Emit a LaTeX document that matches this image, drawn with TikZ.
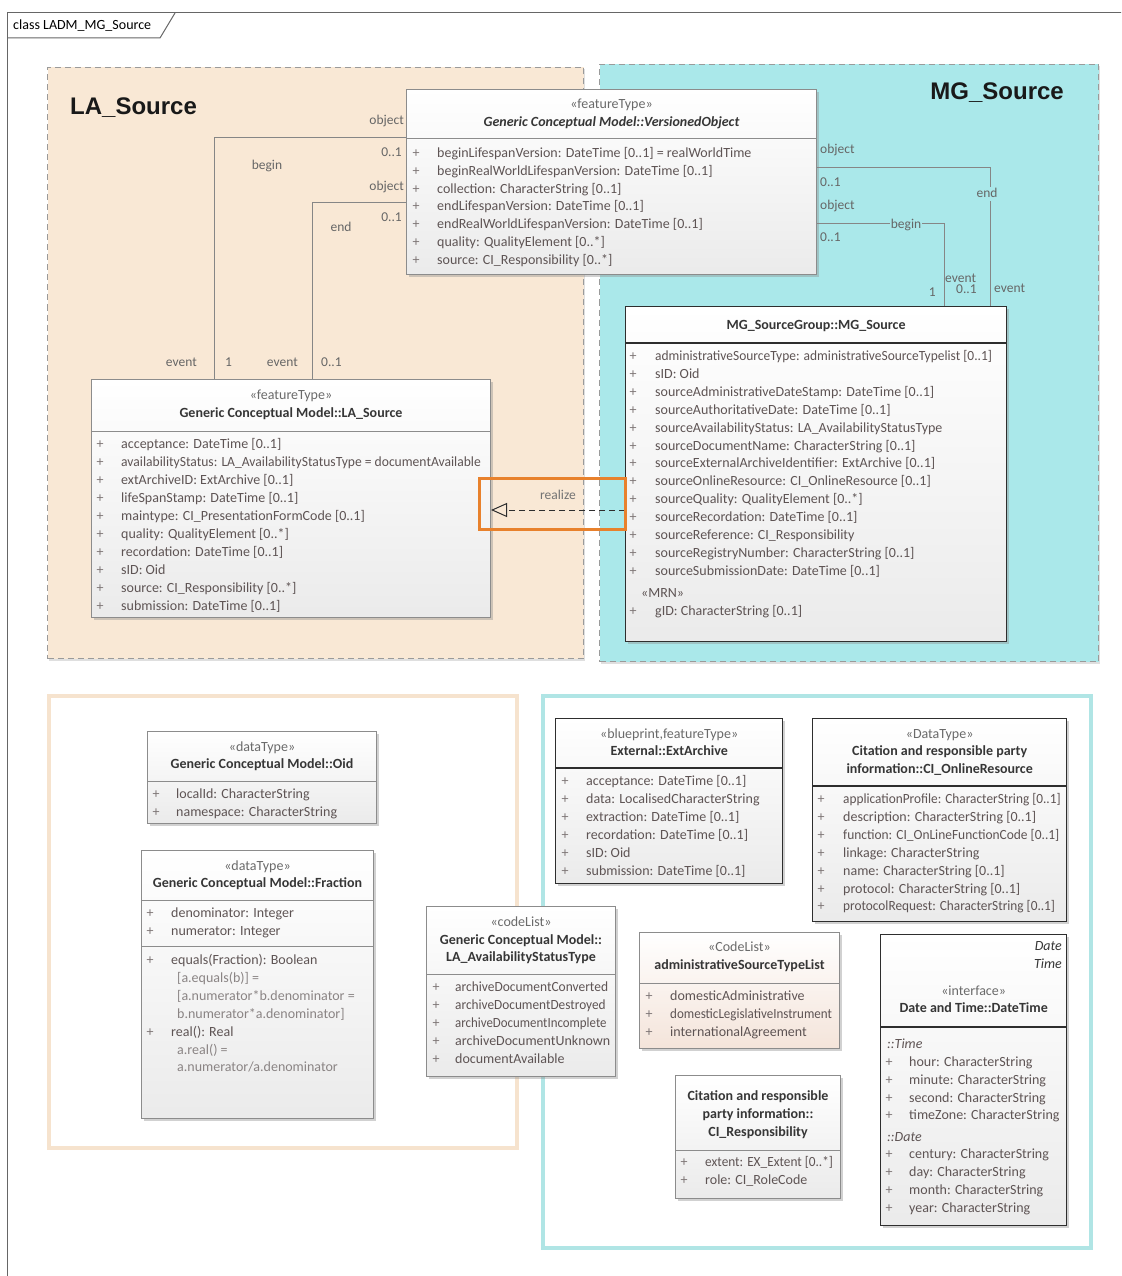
\documentclass[tikz,border=0pt]{standalone}
\usepackage{graphicx}
\usepackage{fontspec}
\setmainfont{Carlito}
\newfontfamily\headfont{Liberation Sans}
\usetikzlibrary{arrows.meta,shadows,calc}

\definecolor{lapeach}{HTML}{F9E8D5}
\definecolor{mgcyan}{HTML}{AAE8EA}
\definecolor{pkgline}{HTML}{9A9A9A}
\definecolor{attrtext}{HTML}{5E5454}
\definecolor{constrtext}{HTML}{8A8484}
\definecolor{stereotext}{HTML}{6A6A6A}
\definecolor{nametext}{HTML}{363636}
\definecolor{boxline}{HTML}{8C8C8C}
\definecolor{darkline}{HTML}{2E2E2E}
\definecolor{connline}{HTML}{868686}
\definecolor{hilite}{HTML}{E8812C}
\definecolor{peachframe}{HTML}{F6E3CE}
\definecolor{cyanframe}{HTML}{B0E5E5}
\definecolor{codefill}{HTML}{F4E4DA}

\newcommand\umlfont{\fontsize{14}{16}\selectfont}
% condense a row of text horizontally so it fits its box
\newcommand\squeeze[2]{\scalebox{#1}[1]{#2}}

\tikzset{
  frameline/.style={draw=black!60, line width=1pt},
  tabtext/.style={font=\fontsize{14}{16}\selectfont, inner sep=0pt, anchor=west},
  pkg/.style={draw=pkgline, dash pattern=on 6pt off 4pt, line width=1pt,
    anchor=north west, inner sep=0pt,
    drop shadow={shadow xshift=1.5pt, shadow yshift=-2pt, fill=black!35, opacity=.35}},
  pkgtitle/.style={font=\headfont\bfseries\fontsize{24}{28}\selectfont, text=black!90, inner sep=0pt},
  lowframe/.style={line width=3.5pt, anchor=north west, inner sep=0pt},
  classbox/.style={draw=boxline, line width=1pt, top color=white, bottom color=black!8,
    anchor=north west, inner sep=0pt,
    drop shadow={shadow xshift=2.5pt, shadow yshift=-2.5pt, fill=black!45, opacity=.4}},
  darkbox/.style={classbox, draw=darkline, line width=1.3pt},
  codebox/.style={classbox, top color=white, bottom color=codefill},
  stereo/.style={font=\umlfont, text=stereotext, inner sep=0pt, text height=10pt, text depth=3pt},
  cname/.style={font=\umlfont\bfseries, text=nametext, inner sep=0pt, text height=10pt, text depth=3pt},
  attr/.style={font=\umlfont, text=attrtext, inner sep=0pt, anchor=west, text height=10pt, text depth=3pt},
  constr/.style={attr, text=constrtext},
  plus/.style={font=\umlfont, text=attrtext!80, inner sep=0pt, text height=10pt, text depth=3pt},
  role/.style={font=\fontsize{13.5}{15}\selectfont, text=black!60, inner sep=1pt, text height=9pt, text depth=3pt},
  conn/.style={draw=connline, line width=1pt},
  sepline/.style={draw=boxline, line width=1pt},
  darksep/.style={draw=darkline, line width=1.3pt},
  realizeline/.style={draw=darkline, line width=1pt, dash pattern=on 6pt off 4pt,
    -{Triangle[open, length=16pt, width=14pt, line width=1pt]}},
}

% attribute rows: #1 prefix, #2 x of '+', #3 x of text, #4 first y, #5 row step, #6 rows
\newcommand\attrrows[6]{%
  \foreach \t [count=\i] in {#6}{%
    \pgfmathsetmacro\rowy{#4+(\i-1)*#5}%
    \node[plus] (#1p\i) at (#2,\rowy) {+};
    \node[attr] (#1a\i) at (#3,\rowy) {\t};
  }%
}
% horizontal compartment line across a class box: #1 style, #2 box, #3 y
\newcommand\compline[3]{\draw[#1] (#2.west |- 0,#3) -- (#2.east |- 0,#3);}

\begin{document}
\begin{tikzpicture}[x=1pt,y=-1pt]
\useasboundingbox (0,0) rectangle (1121,1276);
\clip (0,0) rectangle (1121,1276);
\fill[white] (0,0) rectangle (1121,1276);

% diagram frame with its name tab
\draw[frameline] (7,13) rectangle (1140,1290);
\draw[frameline] (7,38) -- (160,38) -- (175,13);
\node[tabtext] (tab) at (13,25.5) {class LADM\_MG\_Source};

% packages
\node[pkg, fill=lapeach, minimum width=536pt, minimum height=591pt] (laPkg) at (47,67) {};
\node[pkg, fill=mgcyan, minimum width=499pt, minimum height=597pt] (mgPkg) at (599,64) {};
\node[pkgtitle, anchor=west] (laTitle) at (70,108) {LA\_Source};
\node[pkgtitle, anchor=east] (mgTitle) at (1064,93) {MG\_Source};

\node[lowframe, draw=peachframe, minimum width=468pt, minimum height=452pt] (laLow) at (47,694) {};
\node[lowframe, draw=cyanframe, minimum width=548pt, minimum height=552pt] (mgLow) at (541,694) {};

% ---------- class boxes ----------
\node[classbox, minimum width=410pt, minimum height=185pt] (vo) at (406,89) {};
\node[classbox, minimum width=399pt, minimum height=238pt] (las) at (91,379) {};
\node[darkbox, minimum width=381pt, minimum height=335pt] (mg) at (625,306) {};

% connectors between VersionedObject, LA_Source and MG_Source
\coordinate (lbBend) at (214,138);
\coordinate (leBend) at (312,202);
\coordinate (reBend) at (990,168);
\coordinate (rbBend) at (944,223);
\draw[conn] (vo.west |- lbBend) -| (las.north -| lbBend);
\draw[conn] (vo.west |- leBend) -| (las.north -| leBend);
\draw[conn] (vo.east |- reBend) -| (mg.north -| reBend);
\draw[conn] (vo.east |- rbBend) -| (mg.north -| rbBend);

\node[role, anchor=east] (lbObj) at (405,122) {object};
\node[role, anchor=east] (lbMul) at (403,154) {0..1};
\node[role] (lbName) at (267,167) {begin};
\node[role, anchor=east] (lbEv) at (198,363) {event};
\node[role, anchor=west] (lbEvMul) at (224,363) {1};
\node[role, anchor=east] (leObj) at (405,187) {object};
\node[role, anchor=east] (leMul) at (403,218) {0..1};
\node[role] (leName) at (341,228) {end};
\node[role, anchor=east] (leEv) at (299,363) {event};
\node[role, anchor=west] (leEvMul) at (320,363) {0..1};

\node[role, anchor=west] (reObj) at (819,151) {object};
\node[role, anchor=west] (reMul) at (819,183) {0..1};
\node[role, fill=mgcyan] (reName) at (987,194) {end};
\node[role, anchor=west] (reEv) at (993,289) {event};
\node[role, anchor=west] (rbObj) at (819,206) {object};
\node[role, anchor=west] (rbMul) at (819,238) {0..1};
\node[role, fill=mgcyan] (rbName) at (906,225) {begin};
\node[role, anchor=west] (rbEv) at (944,279) {event};
\node[role, anchor=west] (rbEvMul) at (955,290) {0..1};
\node[role, anchor=east] (rbMulOne) at (937,293) {1};

% VersionedObject
\node[stereo] (voSt) at (vo.center |- 0,105) {«featureType»};
\node[cname, font=\umlfont\bfseries\itshape] (voName) at (vo.center |- 0,123) {Generic Conceptual Model::VersionedObject};
\compline{sepline}{vo}{139}
\attrrows{vo}{416}{437}{154}{17.8}{
  {beginLifespanVersion: DateTime [0..1] = realWorldTime},
  {beginRealWorldLifespanVersion: DateTime [0..1]},
  {collection: CharacterString [0..1]},
  {endLifespanVersion: DateTime [0..1]},
  {endRealWorldLifespanVersion: DateTime [0..1]},
  {quality: QualityElement [0..*]},
  {source: CI\_Responsibility [0..*]}}

% LA_Source
\node[stereo] (lasSt) at (las.center |- 0,396) {«featureType»};
\node[cname] (lasName) at (las.center |- 0,414) {Generic Conceptual Model::LA\_Source};
\compline{sepline}{las}{431}
\attrrows{las}{100}{121}{445}{18}{
  {acceptance: DateTime [0..1]},
  {\squeeze{0.97}{availabilityStatus: LA\_AvailabilityStatusType = documentAvailable}},
  {extArchiveID: ExtArchive [0..1]},
  {lifeSpanStamp: DateTime [0..1]},
  {maintype: CI\_PresentationFormCode [0..1]},
  {quality: QualityElement [0..*]},
  {recordation: DateTime [0..1]},
  {sID: Oid},
  {source: CI\_Responsibility [0..*]},
  {submission: DateTime [0..1]}}

% MG_Source
\node[cname] (mgName) at (mg.center |- 0,326) {MG\_SourceGroup::MG\_Source};
\compline{darksep}{mg}{343}
\attrrows{mg}{633}{655}{357}{17.9}{
  {\squeeze{0.96}{administrativeSourceType: administrativeSourceTypelist [0..1]}},
  {sID: Oid},
  {sourceAdministrativeDateStamp: DateTime [0..1]},
  {sourceAuthoritativeDate: DateTime [0..1]},
  {sourceAvailabilityStatus: LA\_AvailabilityStatusType},
  {sourceDocumentName: CharacterString [0..1]},
  {sourceExternalArchiveIdentifier: ExtArchive [0..1]},
  {sourceOnlineResource: CI\_OnlineResource [0..1]},
  {sourceQuality: QualityElement [0..*]},
  {sourceRecordation: DateTime [0..1]},
  {sourceReference: CI\_Responsibility},
  {sourceRegistryNumber: CharacterString [0..1]},
  {sourceSubmissionDate: DateTime [0..1]}}
\node[stereo, anchor=west, text=attrtext] (mgMrn) at (641,594) {«MRN»};
\node[plus] (mgGidP) at (633,612) {+};
\node[attr] (mgGid) at (655,612) {gID: CharacterString [0..1]};

% realization MG_Source -> LA_Source, highlighted
\coordinate (realY) at (0,510);
\draw[realizeline] (mg.west |- realY) -- (las.east |- realY);
\node[role, text=black!55] (realLbl) at (558,496) {realize};
\node[draw=hilite, line width=3.5pt, minimum width=146pt, minimum height=51pt, inner sep=0pt] (hl) at (552.5,504) {};

% ---------- lower left: data types ----------
\node[classbox, minimum width=229pt, minimum height=92pt] (oid) at (147,731) {};
\node[stereo] (oidSt) at (oid.center |- 0,748) {«dataType»};
\node[cname] (oidName) at (oid.center |- 0,765) {Generic Conceptual Model::Oid};
\compline{sepline}{oid}{781}
\attrrows{oid}{156}{176}{795}{18}{
  {localId: CharacterString},
  {namespace: CharacterString}}

\node[classbox, minimum width=232pt, minimum height=268pt] (frac) at (141,850) {};
\node[stereo] (fracSt) at (frac.center |- 0,867) {«dataType»};
\node[cname] (fracName) at (frac.center |- 0,884) {Generic Conceptual Model::Fraction};
\compline{sepline}{frac}{900}
\attrrows{frac}{150}{171}{914}{18}{
  {denominator: Integer},
  {numerator: Integer}}
\compline{sepline}{frac}{946}
\node[plus] (fracOpP1) at (150,961) {+};
\node[attr] (fracOp1) at (171,961) {equals(Fraction): Boolean};
\node[constr] (fracC1) at (177,979) {[a.equals(b)] =};
\node[constr] (fracC2) at (177,997) {[a.numerator*b.denominator =};
\node[constr] (fracC3) at (177,1015) {b.numerator*a.denominator]};
\node[plus] (fracOpP2) at (150,1033) {+};
\node[attr] (fracOp2) at (171,1033) {real(): Real};
\node[constr] (fracC4) at (177,1051) {a.real() =};
\node[constr] (fracC5) at (177,1068) {a.numerator/a.denominator};

% ---------- middle: availability code list ----------
\node[classbox, minimum width=189pt, minimum height=170pt] (avail) at (426,906) {};
\node[stereo] (availSt) at (avail.center |- 0,923) {«codeList»};
\node[cname] (availName1) at (avail.center |- 0,941) {Generic Conceptual Model::};
\node[cname] (availName2) at (avail.center |- 0,958) {LA\_AvailabilityStatusType};
\compline{sepline}{avail}{974}
\attrrows{avail}{436}{455}{988}{18}{
  {\squeeze{0.96}{archiveDocumentConverted}},
  {\squeeze{0.95}{archiveDocumentDestroyed}},
  {\squeeze{0.92}{archiveDocumentIncomplete}},
  {archiveDocumentUnknown},
  {documentAvailable}}

% ---------- lower right: referenced types ----------
\node[darkbox, minimum width=227pt, minimum height=165pt] (ext) at (555,718) {};
\node[stereo] (extSt) at (ext.center |- 0,735) {«blueprint,featureType»};
\node[cname] (extName) at (ext.center |- 0,752) {External::ExtArchive};
\compline{darksep}{ext}{768}
\attrrows{ext}{565}{586}{782}{17.9}{
  {acceptance: DateTime [0..1]},
  {data: LocalisedCharacterString},
  {extraction: DateTime [0..1]},
  {recordation: DateTime [0..1]},
  {sID: Oid},
  {submission: DateTime [0..1]}}

\node[darkbox, minimum width=254pt, minimum height=203pt] (onl) at (812,718) {};
\node[stereo] (onlSt) at (onl.center |- 0,735) {«DataType»};
\node[cname] (onlName1) at (onl.center |- 0,752) {Citation and responsible party};
\node[cname] (onlName2) at (onl.center |- 0,770) {information::CI\_OnlineResource};
\compline{darksep}{onl}{786}
\attrrows{onl}{821}{843}{800}{17.9}{
  {\squeeze{0.95}{applicationProfile: CharacterString [0..1]}},
  {description: CharacterString [0..1]},
  {\squeeze{0.96}{function: CI\_OnLineFunctionCode [0..1]}},
  {linkage: CharacterString},
  {name: CharacterString [0..1]},
  {protocol: CharacterString [0..1]},
  {\squeeze{0.95}{protocolRequest: CharacterString [0..1]}}}

\node[codebox, minimum width=200pt, minimum height=116pt] (ast) at (639,932) {};
\node[stereo] (astSt) at (ast.center |- 0,948) {«CodeList»};
\node[cname] (astName) at (ast.center |- 0,966) {administrativeSourceTypeList};
\compline{sepline}{ast}{983}
\attrrows{ast}{649}{670}{997}{18}{
  {domesticAdministrative},
  {\squeeze{0.93}{domesticLegislativeInstrument}},
  {internationalAgreement}}

\node[classbox, minimum width=165pt, minimum height=123pt] (resp) at (675,1075) {};
\node[cname] (respName1) at (resp.center |- 0,1097) {Citation and responsible};
\node[cname] (respName2) at (resp.center |- 0,1115) {party information::};
\node[cname] (respName3) at (resp.center |- 0,1133) {CI\_Responsibility};
\compline{sepline}{resp}{1150}
\attrrows{resp}{684}{705}{1163}{18}{
  {\squeeze{0.95}{extent: EX\_Extent [0..*]}},
  {role: CI\_RoleCode}}

\node[darkbox, minimum width=186pt, minimum height=291pt] (dt) at (880,934) {};
\node[stereo, anchor=east, font=\umlfont\itshape, text=nametext] (dtPkg1) at (1062,947) {Date};
\node[stereo, anchor=east, font=\umlfont\itshape, text=nametext] (dtPkg2) at (1062,965) {Time};
\node[stereo] (dtSt) at (dt.center |- 0,992) {«interface»};
\node[cname] (dtName) at (dt.center |- 0,1009) {Date and Time::DateTime};
\compline{darksep}{dt}{1027}
\node[attr, font=\umlfont\itshape] (dtTime) at (887,1045) {::Time};
\attrrows{dtT}{889}{909}{1063}{17.8}{
  {hour: CharacterString},
  {minute: CharacterString},
  {second: CharacterString},
  {timeZone: CharacterString}}
\node[attr, font=\umlfont\itshape] (dtDate) at (887,1138) {::Date};
\attrrows{dtD}{889}{909}{1155}{18}{
  {century: CharacterString},
  {day: CharacterString},
  {month: CharacterString},
  {year: CharacterString}}
\end{tikzpicture}
\end{document}
